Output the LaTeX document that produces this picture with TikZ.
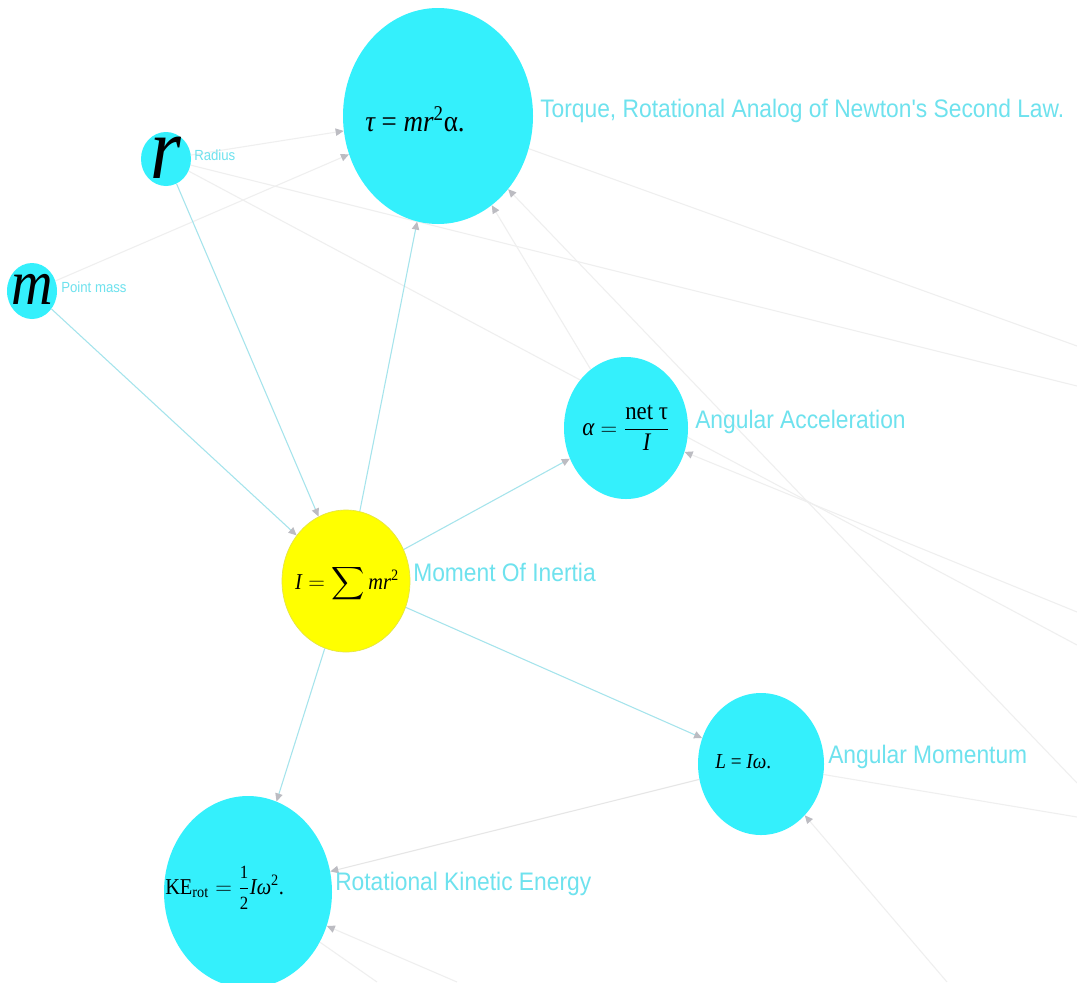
\documentclass[tikz,border=0pt]{standalone}
\usepackage{amsmath}
\usepackage{fontspec}
\setmainfont{Liberation Serif}
\newfontfamily\labfont[FakeStretch=0.9]{Liberation Sans}
\newfontfamily\frmfont[FakeStretch=0.9]{Liberation Serif}
\usetikzlibrary{shapes.geometric,arrows.meta,backgrounds}
\definecolor{nodecyan}{RGB}{52,240,252}
\definecolor{moiyellow}{RGB}{255,255,0}
\definecolor{moiborder}{RGB}{228,228,70}
\definecolor{labcyan}{RGB}{110,226,238}
\definecolor{edgecyan}{RGB}{165,228,236}
\definecolor{faint}{RGB}{239,239,239}
\definecolor{arrowgray}{RGB}{188,188,194}
\begin{document}
\begin{tikzpicture}[x=0.75pt,y=-0.75pt,
  bub/.style 2 args={ellipse, minimum width=#1*1.5pt, minimum height=#2*1.5pt, inner sep=0pt, fill=nodecyan},
  lab/.style={font=\labfont\fontsize{19}{22}\selectfont, text=labcyan, anchor=base west, inner sep=0pt},
  slab/.style={font=\labfont\fontsize{11}{13}\selectfont, text=labcyan, anchor=base west, inner sep=0pt},
  frm/.style={inner sep=0pt, text=black},
  tip/.style={-{Triangle[length=6pt,width=5.5pt,color=arrowgray]}},
  cedge/.style={draw=edgecyan, line width=0.8pt, tip},
  fedge/.style={draw=faint, line width=0.8pt},
  fedgea/.style={draw=faint, line width=0.8pt, tip}]
\useasboundingbox (0,0) rectangle (1077,982);
\clip (0,0) rectangle (1077,982);

% nodes
\node[bub={95}{108}] (tq) at (438,116) {};
\node[bub={25}{27}] (r) at (166,159) {};
\node[bub={25}{28}] (m) at (32,291) {};
\node[bub={64}{71}, fill=moiyellow, draw=moiborder, line width=0.5pt] (moi) at (346,581) {};
\node[bub={62}{71}] (aa) at (626,428) {};
\node[bub={63}{71}] (am) at (761,764) {};
\node[bub={84}{96}] (ke) at (248,892) {};

% off-canvas ends
\coordinate (e1) at (1077,346);
\coordinate (e2) at (1077,386);
\coordinate (e3) at (1077,645);
\coordinate (e4) at (1077,783);
\coordinate (e5) at (1077,612);
\coordinate (e6) at (947,982);
\coordinate (e7) at (1077,817);
\coordinate (e8) at (457,982);
\coordinate (e9) at (377,982);

\begin{scope}[on background layer]
  \fill[white] (0,0) rectangle (1077,982);
  \draw[fedge] (tq) -- (e1);
  \draw[fedge] (r) -- (e2);
  \draw[fedge] (r) -- (e3);
  \draw[fedgea] (e4) -- (tq);
  \draw[fedgea] (e5) -- (aa);
  \draw[fedgea] (e6) -- (am);
  \draw[fedge] (am) -- (e7);
  \draw[fedgea] (e8) -- (ke);
  \draw[fedge] (ke) -- (e9);
  \draw[fedgea] (r) -- (tq);
  \draw[fedgea] (m) -- (tq);
  \draw[fedgea] (aa) -- (tq);
  \draw[fedgea, draw={rgb,255:red,230;green,230;blue,230}] (am) -- (ke);
  \draw[cedge] (r) -- (moi);
  \draw[cedge] (m) -- (moi);
  \draw[cedge] (moi) -- (tq);
  \draw[cedge] (moi) -- (aa);
  \draw[cedge] (moi) -- (am);
  \draw[cedge] (moi) -- (ke);
\end{scope}

% formulas
\node[frm, anchor=base west, font=\frmfont\fontsize{22.5}{26}\selectfont] (tqf) at (365,131)
  {{\itshape τ} = {\itshape mr}\textsuperscript{2}α.};
\node[frm, font=\frmfont\itshape\fontsize{66}{66}\selectfont] (rf) at (166,158) {r};
\node[frm, font=\frmfont\itshape\fontsize{48}{48}\selectfont] (mf) at (32,289) {m};
\node[frm, font=\frmfont\fontsize{19}{23}\selectfont] (aaf) at (626,428)
  {$\textit{α} = \dfrac{\text{net τ}}{\textit{I}}$};
\node[frm, font=\frmfont\fontsize{17}{20}\selectfont] (moif) at (347,584)
  {$\textit{I} = \displaystyle\sum \textit{mr}^{\text{2}}$};
\node[frm, anchor=base west, font=\frmfont\fontsize{16}{19}\selectfont] (amf) at (715,768)
  {{\itshape L} = {\itshape Iω}.};
\node[frm, anchor=base west, font=\frmfont\fontsize{17}{20}\selectfont] (kef) at (165,894)
  {$\text{KE}_{\text{rot}} = \dfrac{\text{\fontsize{14}{14}\selectfont 1}}{\text{\fontsize{14}{14}\selectfont 2}}\textit{Iω}^{\text{2}}\text{.}$};

% labels
\node[lab] (tql) at (540,117) {Torque, Rotational Analog of Newton's Second Law.};
\node[slab] (rl) at (194,160) {Radius};
\node[slab] (ml) at (61,292) {Point mass};
\node[lab] (aal) at (695,428) {Angular Acceleration};
\node[lab] (moil) at (413,581) {Moment Of Inertia};
\node[lab] (aml) at (828,763) {Angular Momentum};
\node[lab] (kel) at (335,890) {Rotational Kinetic Energy};
\end{tikzpicture}
\end{document}
